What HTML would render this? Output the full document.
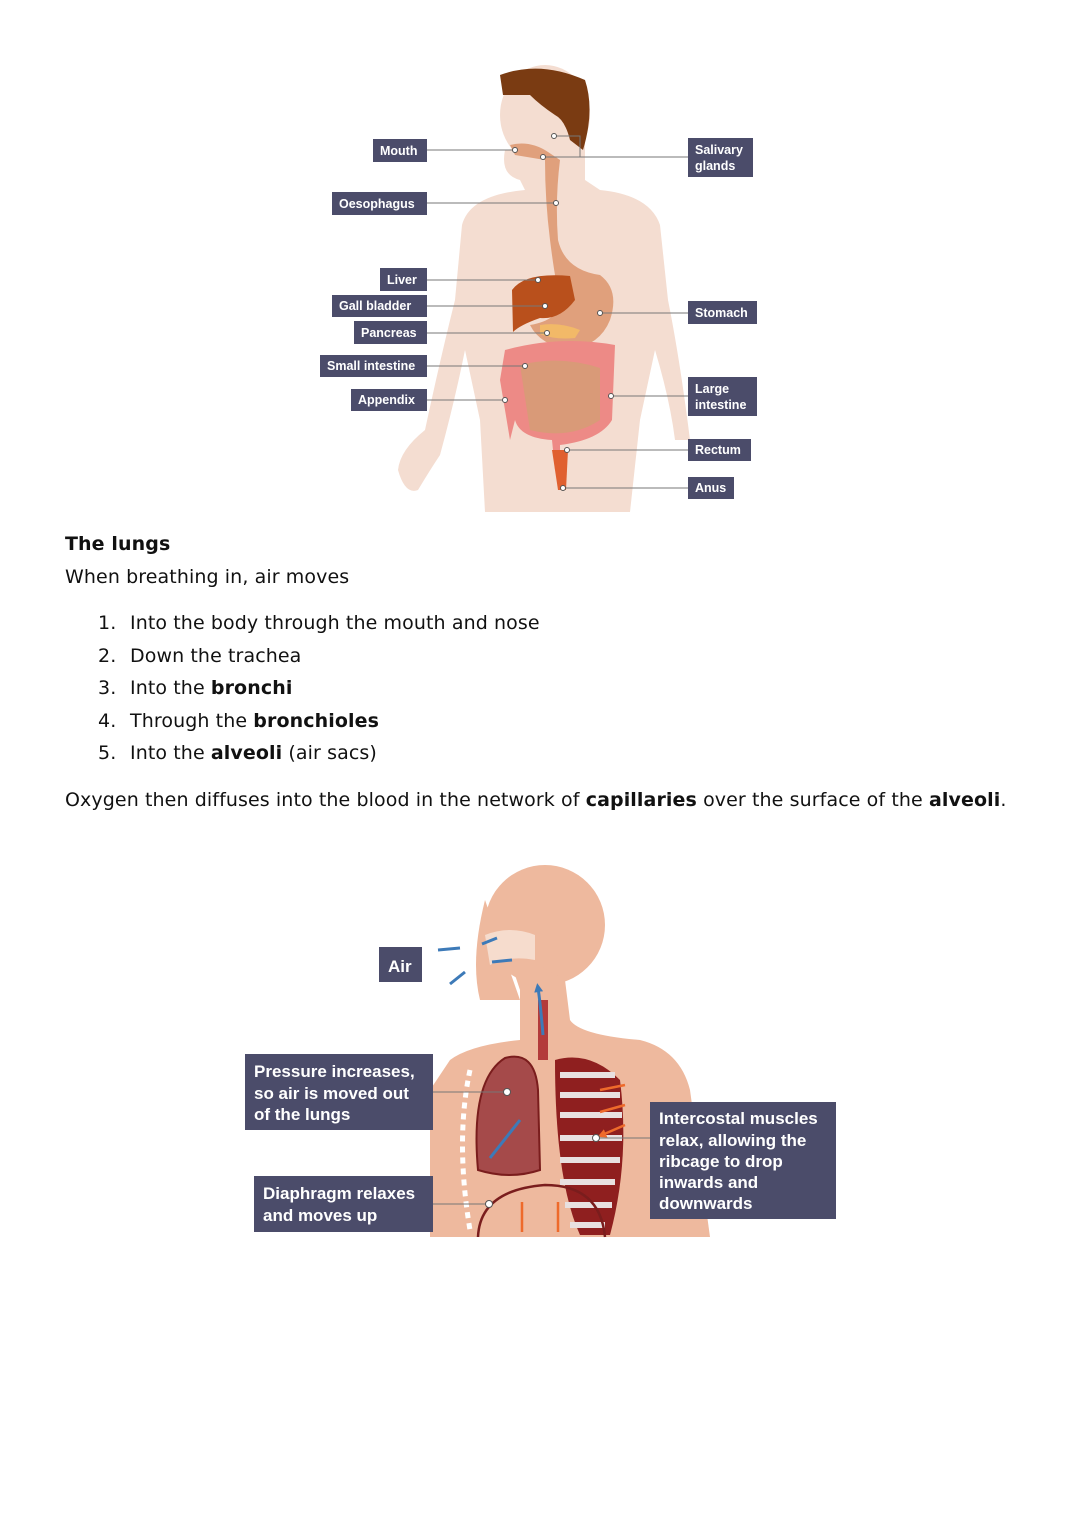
<!DOCTYPE html>
<html><head><meta charset="utf-8"><style>
body{margin:0;background:#fff;width:1080px;height:1527px;position:relative;overflow:hidden;font-family:"DejaVu Sans","Liberation Sans",sans-serif;color:#111}
.t{position:absolute;font-size:19px;white-space:nowrap;letter-spacing:0.1px}
svg{position:absolute;left:0;top:0}
.lb{font-family:"Liberation Sans",sans-serif;font-weight:bold;fill:#fff}
</style></head><body>
<svg width="1080" height="1527" viewBox="0 0 1080 1527">
<defs><marker id="ab" markerUnits="userSpaceOnUse" markerWidth="9" markerHeight="9" refX="4" refY="4.5" orient="auto"><path d="M0 0L9 4.5L0 9Z" fill="#3d7ab8"/></marker>
<marker id="ao" markerUnits="userSpaceOnUse" markerWidth="9" markerHeight="9" refX="4" refY="4.5" orient="auto"><path d="M0 0L9 4.5L0 9Z" fill="#ee6a2b"/></marker></defs>
<!-- digestive body -->
<g fill="#f4ddd1">
<path d="M505 150 Q500 175 520 180 L525 190 Q470 195 462 225 L455 300 Q440 360 425 430 Q400 450 398 470 Q405 495 418 490 Q430 470 440 455 Q455 400 465 350 L480 420 L485 512 L630 512 L640 420 L655 350 Q670 400 675 440 L690 440 Q680 360 668 300 L660 225 Q650 195 600 190 L585 180 L585 140 Z"/>
<ellipse cx="545" cy="115" rx="45" ry="50"/>
</g>
<path d="M500 75 Q540 60 585 80 Q595 110 583 150 L570 140 Q565 120 555 115 Q540 105 530 95 Q515 95 503 95 Z" fill="#7a3b12"/>
<path d="M510 145 Q530 140 548 152 L560 160 Q555 200 558 240 Q565 270 600 275 Q620 290 610 320 Q600 345 570 350 Q540 345 530 325 Q560 320 560 300 Q555 280 550 240 Q545 200 545 160 L515 155 Z" fill="#e0a07c"/>
<path d="M512 290 Q525 272 570 276 L575 300 Q560 320 540 318 Q520 325 513 332 Z" fill="#b9501c"/>
<path d="M540 325 Q560 322 580 330 L575 338 Q555 340 540 334 Z" fill="#f2b968"/>
<path d="M505 350 Q560 335 615 345 L612 420 Q600 440 560 445 L560 470 L555 470 L552 440 Q520 438 515 420 L510 440 L500 380 Z" fill="#ed8a86"/>
<path d="M520 365 Q560 355 600 368 L600 420 Q570 440 530 430 Z" fill="#d99a78"/>
<path d="M552 450 L568 450 L566 490 L558 490 Z" fill="#e06030"/>
<g stroke="#777" stroke-width="1" fill="none">
<path d="M427 150H515M427 203H556M427 280H538M427 306H545M427 333H547M427 366H525M427 400H505M688 157H580V136H554M580 157H543M688 313H600M688 396H611M688 450H567M688 488H563"/>
</g>
<g fill="#fff" stroke="#555" stroke-width="1">
<circle cx="515" cy="150" r="2.5"/><circle cx="554" cy="136" r="2.5"/><circle cx="543" cy="157" r="2.5"/><circle cx="556" cy="203" r="2.5"/><circle cx="538" cy="280" r="2.5"/><circle cx="545" cy="306" r="2.5"/><circle cx="547" cy="333" r="2.5"/><circle cx="525" cy="366" r="2.5"/><circle cx="505" cy="400" r="2.5"/><circle cx="600" cy="313" r="2.5"/><circle cx="611" cy="396" r="2.5"/><circle cx="567" cy="450" r="2.5"/><circle cx="563" cy="488" r="2.5"/>
</g>
<g fill="#4b4c6a">
<rect x="373" y="139" width="54" height="23"/><rect x="332" y="192" width="95" height="23"/><rect x="380" y="268" width="47" height="23"/><rect x="332" y="295" width="95" height="22"/><rect x="354" y="321" width="73" height="23"/><rect x="320" y="355" width="107" height="22"/><rect x="351" y="389" width="76" height="22"/>
<rect x="688" y="138" width="65" height="39"/><rect x="688" y="301" width="69" height="23"/><rect x="688" y="377" width="69" height="39"/><rect x="688" y="439" width="63" height="22"/><rect x="688" y="477" width="46" height="22"/>
</g>
<g class="lb" font-size="12.5">
<text x="380" y="155">Mouth</text><text x="339" y="208">Oesophagus</text><text x="387" y="284">Liver</text><text x="339" y="310">Gall bladder</text><text x="361" y="337">Pancreas</text><text x="327" y="370">Small intestine</text><text x="358" y="404">Appendix</text>
<text x="695" y="154">Salivary</text><text x="695" y="170">glands</text><text x="695" y="317">Stomach</text><text x="695" y="393">Large</text><text x="695" y="409">intestine</text><text x="695" y="454">Rectum</text><text x="695" y="492">Anus</text>
</g>
<!-- lungs diagram -->
<g fill="#eeb99e">
<circle cx="545" cy="925" r="60"/>
<path d="M480 930 L500 930 L520 990 L520 1040 Q470 1045 450 1060 L430 1090 L430 1237 L710 1237 L690 1090 Q680 1050 640 1040 Q580 1035 570 1020 L565 980 Z"/>
<path d="M485 900 Q470 960 480 1000 L520 1000 Z"/>
</g>
<path d="M485 935 Q510 925 535 935 L535 960 Q510 955 490 965 Z" fill="#f6dccd"/>
<path d="M478 1170 Q470 1080 505 1058 Q535 1050 538 1090 L540 1170 Q510 1180 478 1170 Z" fill="#a54a4a" stroke="#7a1d1d" stroke-width="2"/>
<rect x="538" y="1000" width="10" height="60" fill="#b33a3a"/>
<path d="M555 1060 Q590 1050 620 1080 Q630 1160 610 1235 L580 1235 Q555 1180 555 1060 Z" fill="#8f1f1f"/>
<g stroke="#e8e0e0" stroke-width="6">
<path d="M560 1075H615M560 1095H620M560 1115H622M560 1138H622M560 1160H620M560 1182H615M565 1205H612M570 1225H605"/>
</g>
<path d="M478 1237 Q480 1190 545 1185 Q600 1185 605 1237" fill="none" stroke="#7a1d1d" stroke-width="2.5"/>
<path d="M470 1070 Q455 1140 470 1230" fill="none" stroke="#fff" stroke-width="5" stroke-dasharray="6 5"/>
<g stroke="#3d7ab8" stroke-width="3" fill="none" marker-end="url(#ab)">
<path d="M460 948L438 950M497 938L482 944M512 960L492 962M465 972L450 984M520 1120L490 1158M543 1035Q540 1000 538 988"/>
</g>
<g stroke="#ee6a2b" stroke-width="2.5" marker-end="url(#ao)"><path d="M522 1232V1202M558 1232V1202M625 1085L600 1090M625 1105L600 1112M625 1125L602 1135"/></g>
<g stroke="#777" stroke-width="1"><path d="M433 1092H507M433 1204H489M650 1138H596"/></g>
<g fill="#fff" stroke="#555"><circle cx="507" cy="1092" r="3.5"/><circle cx="489" cy="1204" r="3.5"/><circle cx="596" cy="1138" r="3.5"/></g>
<g fill="#4b4c6a">
<rect x="379" y="947" width="43" height="35"/><rect x="245" y="1054" width="188" height="76"/><rect x="254" y="1176" width="179" height="56"/><rect x="650" y="1102" width="186" height="117"/>
</g>
<g class="lb" font-size="17">
<text x="388" y="972">Air</text>
<text x="254" y="1077">Pressure increases,</text><text x="254" y="1099">so air is moved out</text><text x="254" y="1120">of the lungs</text>
<text x="263" y="1199">Diaphragm relaxes</text><text x="263" y="1221">and moves up</text>
<text x="659" y="1124">Intercostal muscles</text><text x="659" y="1146">relax, allowing the</text><text x="659" y="1167">ribcage to drop</text><text x="659" y="1188">inwards and</text><text x="659" y="1209">downwards</text>
</g>
</svg>
<div class="t" style="left:65px;top:533px;font-weight:bold">The lungs</div>
<div class="t" style="left:65px;top:566px">When breathing in, air moves</div>
<div class="t" style="left:98px;top:612px">1.</div><div class="t" style="left:130px;top:612px">Into the body through the mouth and nose</div>
<div class="t" style="left:98px;top:645px">2.</div><div class="t" style="left:130px;top:645px">Down the trachea</div>
<div class="t" style="left:98px;top:677px">3.</div><div class="t" style="left:130px;top:677px">Into the <b>bronchi</b></div>
<div class="t" style="left:98px;top:710px">4.</div><div class="t" style="left:130px;top:710px">Through the <b>bronchioles</b></div>
<div class="t" style="left:98px;top:742px">5.</div><div class="t" style="left:130px;top:742px">Into the <b>alveoli</b> (air sacs)</div>
<div class="t" style="left:65px;top:789px">Oxygen then diffuses into the blood in the network of <b>capillaries</b> over the surface of the <b>alveoli</b>.</div>
</body></html>
